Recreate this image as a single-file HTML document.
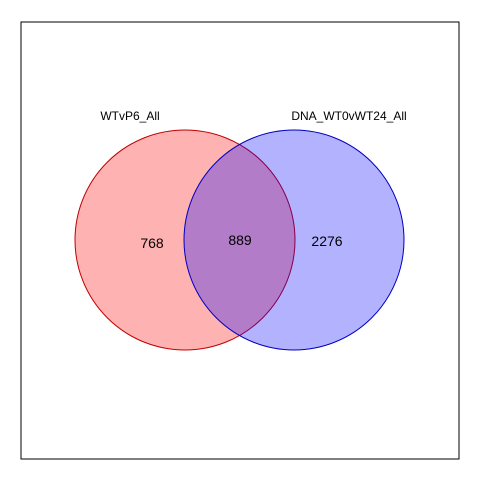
<!DOCTYPE html>
<html><head><meta charset="utf-8"><style>html,body{margin:0;padding:0;background:#fff}svg{display:block}text{font-family:"Liberation Sans",sans-serif}</style></head>
<body>
<svg id="chart" width="480" height="480">
<rect x="21" y="22" width="438" height="437" fill="none" stroke="#000" stroke-width="1"/>
</svg>
<script>
const setNames = ["WTvP6_All", "DNA_WT0vWT24_All"];
const regionLabels = ["only-left", "overlap", "only-right"];
const regionCounts = [768, 889, 2276];
const svg = document.getElementById('chart');
const NS = 'http://www.w3.org/2000/svg';
const circles = [
  {cx:185, cy:240, r:110, fill:'rgba(255,0,0,0.3)', stroke:'#c00000', lx:130, ly:120},
  {cx:294, cy:240, r:110, fill:'rgba(0,0,255,0.3)', stroke:'#0000c0', lx:349, ly:120}
];
circles.forEach((c,i)=>{
  const e=document.createElementNS(NS,'circle');
  e.setAttribute('cx',c.cx);e.setAttribute('cy',c.cy);e.setAttribute('r',c.r);
  e.setAttribute('fill',c.fill);e.setAttribute('stroke',c.stroke);
  
  
  svg.appendChild(e);
  const t=document.createElementNS(NS,'text');
  t.setAttribute('x',c.lx);t.setAttribute('y',c.ly);t.setAttribute('text-anchor','middle');t.setAttribute('font-size','12');
  t.textContent=setNames[i];
  
  
  svg.appendChild(t);
});
const pos=[[152,248],[240,245],[327,246]];
regionCounts.forEach((v,i)=>{
  const t=document.createElementNS(NS,'text');
  t.setAttribute('x',pos[i][0]);t.setAttribute('y',pos[i][1]);t.setAttribute('text-anchor','middle');t.setAttribute('font-size','14');
  t.textContent=v;
  
  
  svg.appendChild(t);
});
</script>
</body></html>
